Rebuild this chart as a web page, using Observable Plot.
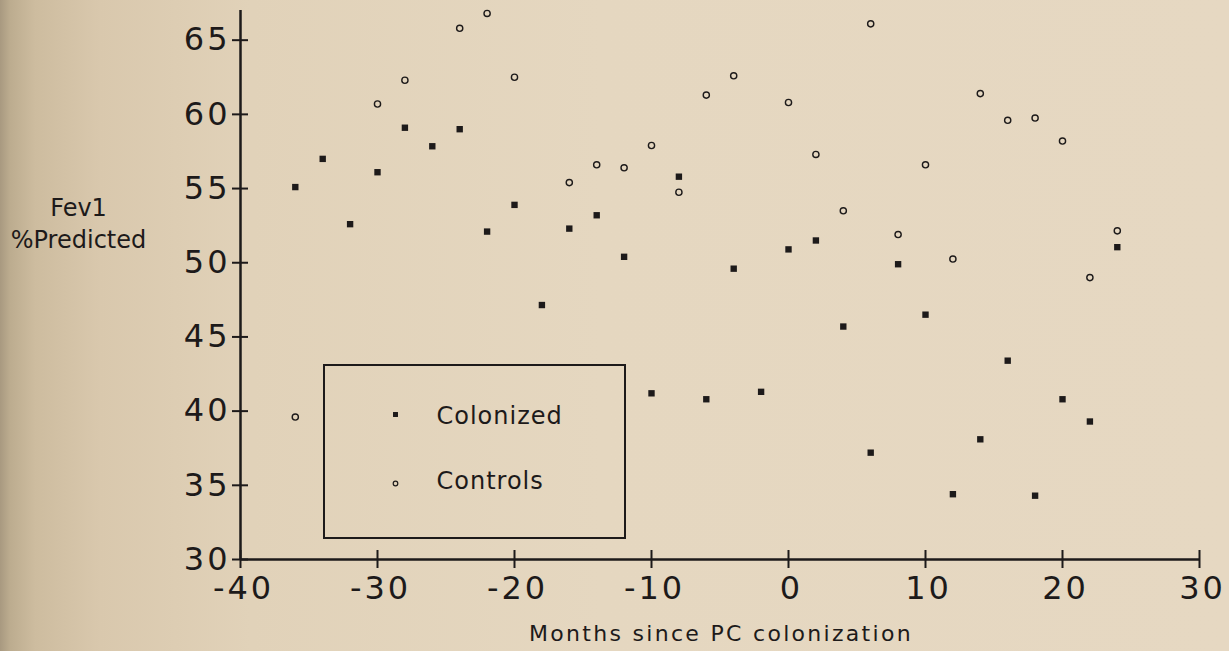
<!DOCTYPE html>
<html>
<head>
<meta charset="utf-8">
<script src="https://cdn.jsdelivr.net/npm/d3@7"></script>
<script src="https://cdn.jsdelivr.net/npm/@observablehq/plot@0.6"></script>
<style>
  html, body { margin: 0; padding: 0; overflow: hidden; background: #e4d5bd; }
</style>
</head>
<body>
<div id="chart"></div>
<script>
// Months since PC colonization (one colonized reading every 2 months)
const months = [-36, -34, -32, -30, -28, -26, -24, -22, -20, -18, -16, -14, -12, -10, -8, -6,
  -4, -2, 0, 2, 4, 6, 8, 10, 12, 14, 16, 18, 20, 22, 24];
const colonized = [55.1, 57.0, 52.6, 56.1, 59.1, 57.85, 59.0, 52.1, 53.9, 47.15, 52.3, 53.2, 50.4, 41.2, 55.8, 40.8,
  49.6, 41.3, 50.9, 51.5, 45.7, 37.2, 49.9, 46.5, 34.4, 38.1, 43.4, 34.3, 40.8, 39.3, 51.05];
const controlMonths = [-36, -30, -28, -24, -22, -20, -16, -14, -12, -10, -8, -6, -4, 0, 2, 4,
  6, 8, 10, 12, 14, 16, 18, 20, 22, 24];
const controls = [39.6, 60.7, 62.3, 65.8, 66.8, 62.5, 55.4, 56.6, 56.4, 57.9, 54.75, 61.3, 62.6, 60.8, 57.3, 53.5,
  66.1, 51.9, 56.6, 50.25, 61.4, 59.6, 59.75, 58.2, 49.0, 52.15];
const seriesNames = ["Colonized", "Controls"];
const xTicks = [-40, -30, -20, -10, 0, 10, 20, 30];
const yTicks = [30, 35, 40, 45, 50, 55, 60, 65];
const xTitle = "Months since PC colonization";
const yTitle = "Fev1\n%Predicted";

const colData = months.map((m, i) => ({month: m, fev1: colonized[i], group: seriesNames[0]}));
const ctlData = controlMonths.map((m, i) => ({month: m, fev1: controls[i], group: seriesNames[1]}));

const ink = "#1d1a1a";
const font = "'DejaVu Sans', sans-serif";
const fmt = d => String(d); // plain hyphen-minus as in the original

const plot = Plot.plot({
  width: 1229,
  height: 651,
  marginLeft: 240,
  marginRight: 30,
  marginTop: 10,
  marginBottom: 92,
  style: {
    background: "linear-gradient(to right, #a89980 0px, #bcac8f 10px, #cdbc9f 35px, #d9c8ad 100px, #e1d2b9 250px, #e5d7c0 600px, #e6d8c2 100%)",
    fontFamily: font,
    color: ink,
    overflow: "visible"
  },
  x: {domain: [-40, 30], label: null},
  y: {domain: [30, 67], label: null},
  marks: [
    // axis lines
    Plot.ruleY([30], {stroke: ink, strokeWidth: 2.5}),
    Plot.ruleX([-40], {stroke: ink, strokeWidth: 2.5}),
    // crossing ticks on x axis
    Plot.axisX({ticks: xTicks, tickSize: 9, fill: "none", label: null, stroke: ink, strokeWidth: 2}),
    Plot.axisX({ticks: xTicks, tickSize: 9, fill: "none", label: null, stroke: ink, strokeWidth: 2, dy: -9}),
    Plot.axisX({ticks: xTicks, tickSize: 0, tickPadding: 16.5, tickFormat: fmt, label: null, fontSize: 32, dx: 3, fill: ink}),
    // crossing ticks on y axis
    Plot.axisY({ticks: yTicks, tickSize: 8, fill: "none", label: null, stroke: ink, strokeWidth: 2}),
    Plot.axisY({ticks: yTicks, tickSize: 8, fill: "none", label: null, stroke: ink, strokeWidth: 2, dx: 8}),
    Plot.axisY({ticks: yTicks, tickSize: 0, tickPadding: 10, tickFormat: fmt, label: null, fontSize: 32, fill: ink}),
    // titles
    Plot.text([xTitle], {x: null, y: null, text: d => d, frameAnchor: "bottom", dy: 81, dx: 1,
      lineAnchor: "bottom", fontSize: 22, fill: ink}),
    Plot.text([yTitle], {x: null, y: null, text: d => d, frameAnchor: "left", dx: -162, dy: -37.5,
      textAnchor: "middle", lineAnchor: "bottom", lineHeight: 1.3, fontSize: 24, fill: ink}),
    // data
    Plot.dot(colData, {x: "month", y: "fev1", symbol: "square", r: 3.6, fill: ink, stroke: "none"}),
    Plot.dot(ctlData, {x: "month", y: "fev1", symbol: "circle", r: 3.1, fill: "none", stroke: ink, strokeWidth: 1.4}),
    // legend box
    Plot.rect([0], {insetLeft: 84, insetRight: 574, insetTop: 355, insetBottom: 21, fill: "none", stroke: ink, strokeWidth: 2}),
    Plot.dot([seriesNames[0]], {x: null, y: null, frameAnchor: "top-left", dx: 155, dy: 404, symbol: "square", r: 2.8, fill: ink, stroke: "none"}),
    Plot.dot([seriesNames[1]], {x: null, y: null, frameAnchor: "top-left", dx: 155, dy: 473, symbol: "circle", r: 2.3, fill: "none", stroke: ink, strokeWidth: 1.2}),
    Plot.text([seriesNames[0]], {x: null, y: null, text: d => d, frameAnchor: "top-left", dx: 196, dy: 413,
      textAnchor: "start", lineAnchor: "bottom", fontSize: 24, fill: ink}),
    Plot.text([seriesNames[1]], {x: null, y: null, text: d => d, frameAnchor: "top-left", dx: 196, dy: 478,
      textAnchor: "start", lineAnchor: "bottom", fontSize: 24, fill: ink})
  ]
});

document.getElementById("chart").appendChild(plot);

// letter spacing to match the wide spacing of the original lettering
const svg = d3.select(plot);
svg.selectAll('g[aria-label$="tick label"] text').style("letter-spacing", "3px");
svg.selectAll("text").filter(function() { return this.textContent === xTitle; }).style("letter-spacing", "2.3px");
svg.selectAll("text").filter(function() { return seriesNames.includes(this.textContent); }).style("letter-spacing", "1px");
</script>
</body>
</html>
